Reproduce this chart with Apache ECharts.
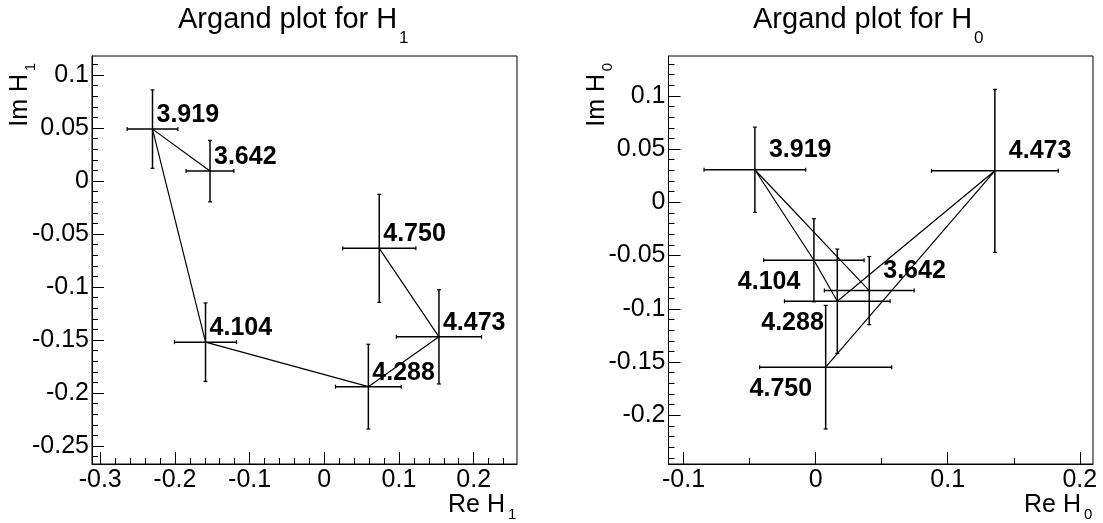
<!DOCTYPE html>
<html>
<head>
<meta charset="utf-8">
<script src="https://cdn.jsdelivr.net/npm/echarts@6/dist/echarts.min.js"></script>
<style>
  html, body { margin: 0; padding: 0; background: #fff; }
  #chart { width: 1103px; height: 523px; }
</style>
</head>
<body>
<div id="chart"></div>
<script>
// ---------------- DATA ----------------
const energies = ['3.642', '3.919', '4.104', '4.288', '4.473', '4.750'];

// Argand plot for H1
const h1Re    = [-0.153, -0.230, -0.159, 0.059, 0.1535, 0.0736];
const h1Im    = [0.0094, 0.049, -0.152, -0.194, -0.147, -0.0635];
const h1ReErr = [0.032, 0.034, 0.0415, 0.044, 0.057, 0.049];
const h1ImErr = [0.029, 0.037, 0.037, 0.040, 0.0445, 0.051];

// Argand plot for H0
const h0Re    = [0.0406, -0.046, -0.0013, 0.0164, 0.1357, 0.0076];
const h0Im    = [-0.0829, 0.0306, -0.0544, -0.0929, 0.0296, -0.1548];
const h0ReErr = [0.034, 0.0385, 0.038, 0.040, 0.048, 0.050];
const h0ImErr = [0.032, 0.040, 0.039, 0.049, 0.0765, 0.058];

// Tick labels
const h1ReTicks = [-0.3, -0.2, -0.1, 0, 0.1, 0.2];
const h1ImTicks = [0.1, 0.05, 0, -0.05, -0.1, -0.15, -0.2, -0.25];
const h0ReTicks = [-0.1, 0, 0.1, 0.2];
const h0ImTicks = [0.1, 0.05, 0, -0.05, -0.1, -0.15, -0.2];

// ---------------- STYLE / LAYOUT ----------------
const FONT = '"Liberation Sans", Arial, Helvetica, sans-serif';
const BLACK = '#000';
const TICK_FONT = 25;

function minorValues(from, to, step, majorStep) {
  const out = [];
  const n0 = Math.round(from / step), n1 = Math.round(to / step);
  const ratio = Math.round(majorStep / step);
  for (let k = n0; k <= n1; k++) {
    if (k % ratio !== 0) out.push(+(k * step).toFixed(4));
  }
  return out;
}

const ranges = {
  x0: [-0.311, 0.258], y0: [-0.267, 0.118],
  x1: [-0.1114, 0.21], y1: [-0.2457, 0.1374]
};

const grids = [
  { left: 92, top: 56, width: 425, height: 408 },
  { left: 668.5, top: 56, width: 424.5, height: 408 }
];

function fmt(v) { return String(v); }

function majorAxis(dim, gridIndex, range, ticks) {
  const isX = dim === 'x';
  return {
    type: 'value', gridIndex, min: range[0], max: range[1],
    position: isX ? 'bottom' : 'left',
    axisLine: { show: true, onZero: false, lineStyle: { color: BLACK, width: 1 } },
    axisTick: { show: true, inside: true, length: 12, customValues: ticks,
                lineStyle: { color: BLACK, width: 1 } },
    minorTick: { show: false },
    axisLabel: { show: true, customValues: ticks, formatter: fmt,
                 color: BLACK, fontSize: TICK_FONT, fontFamily: FONT,
                 margin: isX ? 4 : 3, showMinLabel: true, showMaxLabel: true },
    splitLine: { show: false }
  };
}
function minorAxis(dim, gridIndex, range, ticks) {
  const isX = dim === 'x';
  return {
    type: 'value', gridIndex, min: range[0], max: range[1],
    position: isX ? 'bottom' : 'left',
    axisLine: { show: false, onZero: false },
    axisTick: { show: true, inside: true, length: 6, customValues: ticks,
                lineStyle: { color: BLACK, width: 1 } },
    axisLabel: { show: false },
    splitLine: { show: false }
  };
}

function errorBarItem(labelMode) {
  return function (params, api) {
    const x = api.value(0), y = api.value(1), ex = api.value(2), ey = api.value(3);
    const idx = params.dataIndex;
    const c = api.coord([x, y]);
    const l = api.coord([x - ex, y]), r = api.coord([x + ex, y]);
    const t = api.coord([x, y + ey]), b = api.coord([x, y - ey]);
    const cap = 2;
    const bar = { stroke: BLACK, lineWidth: 1.5 };
    const capS = { stroke: BLACK, lineWidth: 1.2 };
    const children = [
      { type: 'line', shape: { x1: l[0], y1: l[1], x2: r[0], y2: r[1] }, style: bar },
      { type: 'line', shape: { x1: t[0], y1: t[1], x2: b[0], y2: b[1] }, style: bar },
      { type: 'line', shape: { x1: l[0], y1: l[1] - cap, x2: l[0], y2: l[1] + cap }, style: capS },
      { type: 'line', shape: { x1: r[0], y1: r[1] - cap, x2: r[0], y2: r[1] + cap }, style: capS },
      { type: 'line', shape: { x1: t[0] - cap, y1: t[1], x2: t[0] + cap, y2: t[1] }, style: capS },
      { type: 'line', shape: { x1: b[0] - cap, y1: b[1], x2: b[0] + cap, y2: b[1] }, style: capS }
    ];
    const mode = labelMode(energies[idx]);
    let dx, dy, align;
    if (mode === 'near') { dx = 4; dy = -13.75; align = 'left'; }
    else if (mode === 'upright') { dx = 14; dy = -19.75; align = 'left'; }
    else { dx = -13.5; dy = 22.25; align = 'right'; }
    children.push({
      type: 'text', x: c[0] + dx, y: c[1] + dy,
      style: { text: energies[idx], font: 'bold 25px ' + FONT, fill: BLACK,
               align: align, textAlign: align,
               verticalAlign: 'middle', textVerticalAlign: 'middle' }
    });
    return { type: 'group', children };
  };
}

const h0BelowLeft = ['4.104', '4.288', '4.750'];

function seriesFor(gridIdx, re, im, reErr, imErr, labelMode) {
  const xi = gridIdx * 2, yi = gridIdx * 2;
  return [
    {
      type: 'line', xAxisIndex: xi, yAxisIndex: yi,
      data: energies.map((e, i) => [re[i], im[i]]),
      showSymbol: false, symbol: 'none', smooth: false,
      lineStyle: { color: BLACK, width: 1.2 }, z: 3, silent: true
    },
    {
      type: 'custom', xAxisIndex: xi, yAxisIndex: yi,
      data: energies.map((e, i) => [re[i], im[i], reErr[i], imErr[i]]),
      renderItem: errorBarItem(labelMode), z: 4, silent: true, clip: false
    }
  ];
}

function txt(x, y, text, size, align, rotation) {
  return {
    type: 'text', x, y, rotation: rotation || 0, silent: true,
    style: { text, font: size + 'px ' + FONT, fill: BLACK,
             align: align, textAlign: align,
             verticalAlign: 'middle', textVerticalAlign: 'middle' }
  };
}

const option = {
  animation: false,
  backgroundColor: '#fff',
  grid: grids.map(g => Object.assign({ show: true, borderColor: BLACK, borderWidth: 1,
                                         backgroundColor: 'transparent', containLabel: false,
                                         outerBoundsMode: 'none' }, g)),
  xAxis: [
    majorAxis('x', 0, ranges.x0, h1ReTicks),
    minorAxis('x', 0, ranges.x0, minorValues(-0.30, 0.24, 0.02, 0.1)),
    majorAxis('x', 1, ranges.x1, h0ReTicks),
    minorAxis('x', 1, ranges.x1, minorValues(-0.10, 0.20, 0.05, 0.1))
  ],
  yAxis: [
    majorAxis('y', 0, ranges.y0, h1ImTicks),
    minorAxis('y', 0, ranges.y0, minorValues(-0.26, 0.11, 0.01, 0.05)),
    majorAxis('y', 1, ranges.y1, h0ImTicks),
    minorAxis('y', 1, ranges.y1, minorValues(-0.24, 0.13, 0.01, 0.05))
  ],
  series: [].concat(
    seriesFor(0, h1Re, h1Im, h1ReErr, h1ImErr, () => 'near'),
    seriesFor(1, h0Re, h0Im, h0ReErr, h0ImErr, e => h0BelowLeft.indexOf(e) >= 0 ? 'belowleft' : 'upright')
  ),
  graphic: [
    // titles
    txt(178, 20, 'Argand plot for H', 29, 'left'),
    txt(399, 38, '1', 17, 'left'),
    txt(753, 20, 'Argand plot for H', 29, 'left'),
    txt(974, 38, '0', 17, 'left'),
    // x axis titles
    txt(505, 505, 'Re H', 25, 'right'),
    txt(508, 515, '1', 15, 'left'),
    txt(1081, 505, 'Re H', 25, 'right'),
    txt(1084, 515, '0', 15, 'left'),
    // y axis titles (rotated)
    txt(20, 74, 'Im H', 25, 'right', Math.PI / 2),
    txt(31, 63, '1', 15, 'right', Math.PI / 2),
    txt(597, 74, 'Im H', 25, 'right', Math.PI / 2),
    txt(608, 63, '0', 15, 'right', Math.PI / 2)
  ]
};

const chart = echarts.init(document.getElementById('chart'), null, { renderer: 'canvas' });
chart.setOption(option);
</script>
</body>
</html>
